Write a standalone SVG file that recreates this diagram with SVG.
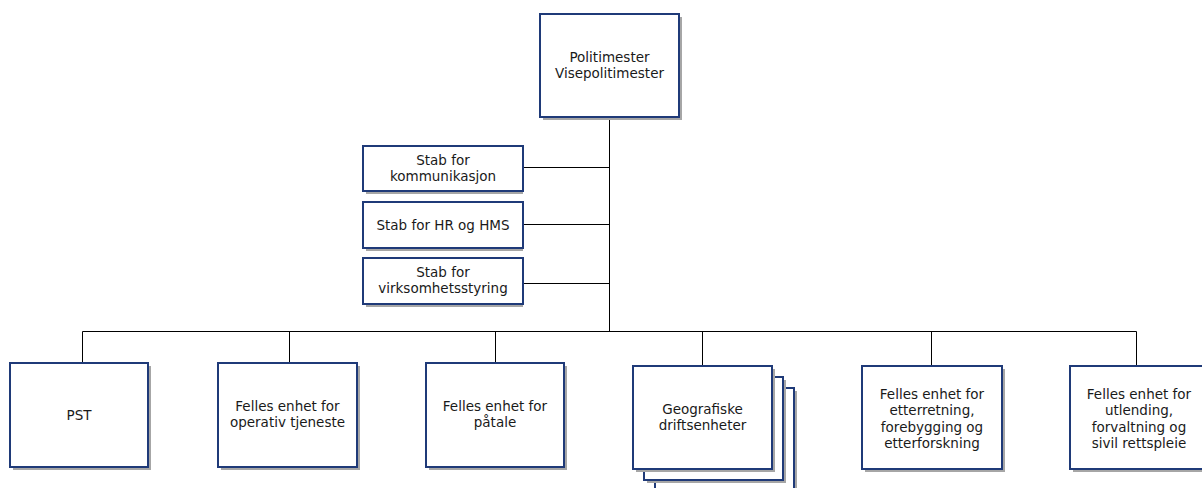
<svg xmlns="http://www.w3.org/2000/svg" width="1202" height="488" viewBox="0 0 1202 488">
<style>
.sh{fill:#a6a6a6}
.bx{fill:#ffffff;stroke:#1f3a78;stroke-width:2}
.ln{stroke:#000000;stroke-width:1;fill:none}
text{font-family:"DejaVu Sans",Verdana,sans-serif;font-size:13.5px;fill:#1a1a1a;text-anchor:middle}
</style>
<rect width="1202" height="488" fill="#ffffff"/>
<g id="connectors">
<path class="ln" d="M609.5 117V331.5M523 167.5H609.5M523 224.5H609.5M523 283.5H609.5M82.5 362V331.5H1136.5V366M289.5 331.5V362M495.5 331.5V362M702.5 331.5V365M931.5 331.5V365"/>
</g>
<g id="n-politimester">
<rect class="sh" x="543" y="17" width="139" height="103"/>
<rect class="bx" x="540" y="14" width="139" height="103"/>
<text x="609.5" y="62">Politimester</text>
<text x="609.5" y="78">Visepolitimester</text>
</g>
<g id="n-stab-komm">
<rect class="sh" x="366" y="149" width="157" height="45"/>
<rect class="bx" x="363" y="146" width="160" height="45"/>
<text x="443" y="164.5">Stab for</text>
<text x="443" y="180.5">kommunikasjon</text>
</g>
<g id="n-stab-hr">
<rect class="sh" x="366" y="205" width="157" height="46"/>
<rect class="bx" x="363" y="202" width="160" height="46"/>
<text x="443" y="229.5">Stab for HR og HMS</text>
</g>
<g id="n-stab-virk">
<rect class="sh" x="366" y="261" width="157" height="46"/>
<rect class="bx" x="363" y="258" width="160" height="46"/>
<text x="443" y="277">Stab for</text>
<text x="443" y="293">virksomhetsstyring</text>
</g>
<g id="n-pst">
<rect class="sh" x="13" y="366" width="138" height="104"/>
<rect class="bx" x="10" y="363" width="138" height="104"/>
<text x="79" y="420">PST</text>
</g>
<g id="n-operativ">
<rect class="sh" x="221" y="366" width="139" height="104"/>
<rect class="bx" x="218" y="363" width="139" height="104"/>
<text x="287.5" y="411">Felles enhet for</text>
<text x="287.5" y="427">operativ tjeneste</text>
</g>
<g id="n-patale">
<rect class="sh" x="429" y="366" width="138" height="104"/>
<rect class="bx" x="426" y="363" width="138" height="104"/>
<text x="495" y="411">Felles enhet for</text>
<text x="495" y="427">påtale</text>
</g>
<g id="n-geografiske">
<rect class="sh" x="658" y="391" width="139" height="103"/>
<rect class="bx" x="655" y="388" width="139" height="103"/>
<rect class="sh" x="647" y="380" width="139" height="103"/>
<rect class="bx" x="644" y="377" width="139" height="103"/>
<rect class="sh" x="636" y="369" width="139" height="103"/>
<rect class="bx" x="633" y="366" width="139" height="103"/>
<text x="702.5" y="414">Geografiske</text>
<text x="702.5" y="430">driftsenheter</text>
</g>
<g id="n-etterretning">
<rect class="sh" x="865" y="369" width="140" height="103"/>
<rect class="bx" x="862" y="366" width="140" height="103"/>
<text x="932" y="398.5">Felles enhet for</text>
<text x="932" y="415">etterretning,</text>
<text x="932" y="431.5">forebygging og</text>
<text x="932" y="448">etterforskning</text>
</g>
<g id="n-utlending">
<rect class="sh" x="1073" y="369" width="140" height="103"/>
<rect class="bx" x="1070" y="366" width="140" height="103"/>
<text x="1139" y="398.5">Felles enhet for</text>
<text x="1139" y="415">utlending,</text>
<text x="1139" y="431.5">forvaltning og</text>
<text x="1139" y="448">sivil rettspleie</text>
</g>
</svg>
